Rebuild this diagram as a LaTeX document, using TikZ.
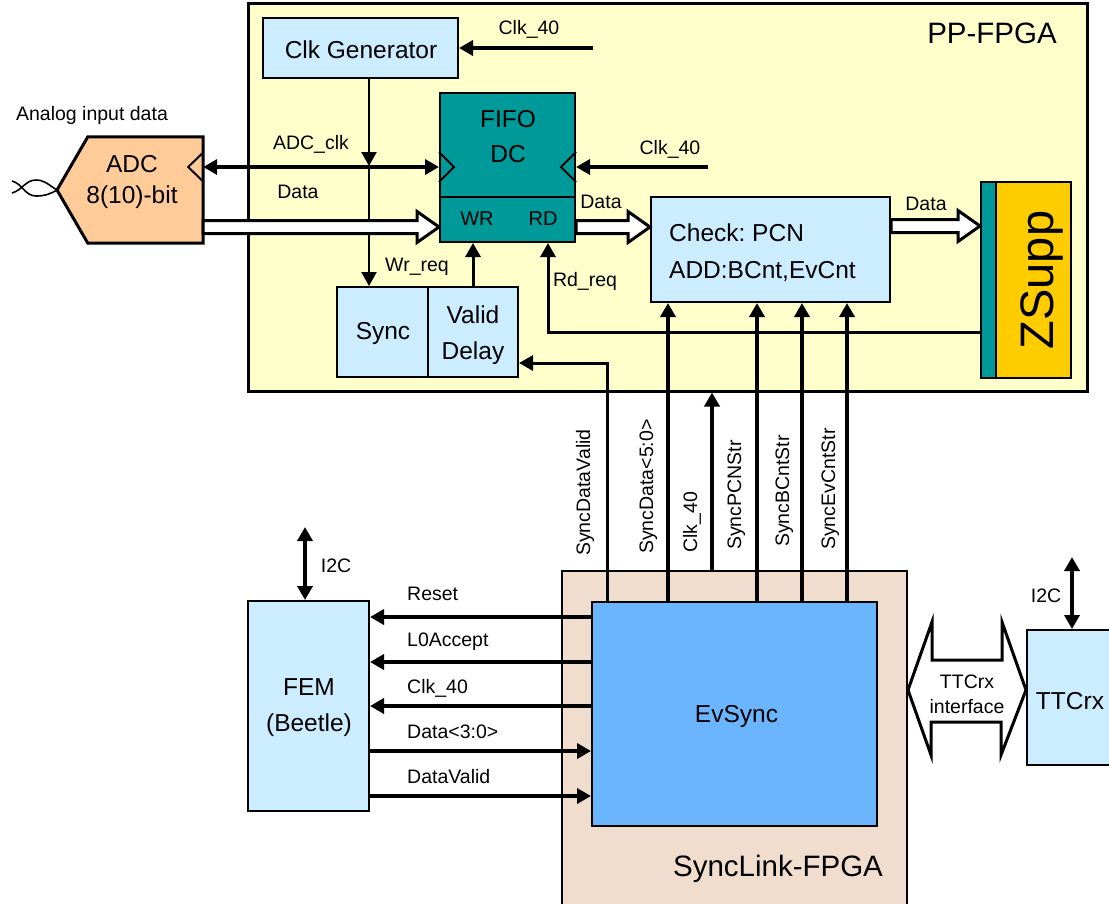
\documentclass[tikz,border=0pt]{standalone}
\usepackage{fontspec}
\setmainfont{Liberation Sans}
\usetikzlibrary{arrows.meta,calc}
\frenchspacing
\definecolor{ppfill}{RGB}{255,255,204}
\definecolor{lblue}{RGB}{204,236,255}
\definecolor{tealc}{RGB}{0,153,153}
\definecolor{peach}{RGB}{255,204,153}
\definecolor{zyell}{RGB}{255,204,0}
\definecolor{slfill}{RGB}{240,221,206}
\definecolor{evblue}{RGB}{107,181,255}
\newcommand\szS{\fontsize{19.5}{23}\selectfont}
\newcommand\szL{\fontsize{24.5}{31}\selectfont}
\newcommand\szLw{\fontsize{24.5}{36}\selectfont}
\newcommand\szXL{\fontsize{29.5}{34}\selectfont}
\newcommand\szZ{\fontsize{47}{50}\selectfont}
\newcommand\hollowarr[2]{\draw[hollow] let \p1=(#1), \p2=(#2) in
  (\x1,\y1+6.5pt) -- (\x2-22pt,\y1+6.5pt) -- (\x2-22pt,\y1+15.5pt) -- (\x2,\y1)
  -- (\x2-22pt,\y1-15.5pt) -- (\x2-22pt,\y1-6.5pt) -- (\x1,\y1-6.5pt) -- cycle;}
\begin{document}
\begin{tikzpicture}[x=1pt,y=-1pt,
  blk/.style={draw, line width=2pt, inner sep=0pt},
  lbl/.style={font=\szS, inner sep=0pt, text height=14pt, text depth=4pt},
  bigtxt/.style={font=\szL, inner sep=0pt, align=center},
  arrh/.style={-{Triangle[length=14pt,width=15pt]}},
  dtip/.style={{Triangle[length=14pt,width=15pt]}-{Triangle[length=14pt,width=15pt]}},
  wA/.style={line width=4pt},
  wB/.style={line width=3pt},
  hollow/.style={draw, line width=3pt, fill=white, line join=miter},
]
\clip (0,0) rectangle (1109,903);

% containers
\node[blk, line width=3pt, fill=ppfill, minimum width=839pt, minimum height=388pt] (pp) at (667.5,197) {};
\node[font=\szXL, inner sep=0pt] (pplbl) at (992,33) {PP-FPGA};
\node[blk, fill=slfill, minimum width=345pt, minimum height=336pt] (synclink) at (734.5,739) {};
\node[font=\szXL, inner sep=0pt] (sllbl) at (778,869) {SyncLink-FPGA};

% PP-FPGA blocks
\node[blk, fill=lblue, minimum width=195pt, minimum height=60pt] (clkgen) at (360.5,48) {};
\node[bigtxt] (clkgent) at (361,50) {Clk Generator};

\node[inner sep=0pt, minimum width=115pt, minimum height=106pt] (adc) at (145.5,190) {};
\coordinate (adctip) at (57,190);
\draw[line width=3pt, fill=peach] (adc.north west) -- (adc.north east) -- (adc.south east) -- (adc.south west) -- (adctip) -- cycle;
\node[bigtxt] (adct) at (132,182) {ADC\\8(10)-bit};
\node[lbl] (analog) at (92,115) {Analog input data};
\draw[line width=1.6pt] (12,181) to[out=-15,in=180] (36,196) to[out=0,in=-150] (adctip);
\draw[line width=1.6pt] (12,193) to[out=15,in=180] (36,180) to[out=0,in=150] (adctip);

\node[blk, fill=tealc, minimum width=135pt, minimum height=149pt] (fifo) at (507.5,167.5) {};
\coordinate (fdiv) at (500,197);
\draw[line width=2pt] (fifo.west |- fdiv) -- (fifo.east |- fdiv);
\node[bigtxt] (fifot) at (508,119) {FIFO};
\node[bigtxt] (dct) at (508,154) {DC};
\node[font=\fontsize{20}{24}\selectfont, inner sep=0pt] (wrt) at (477,219) {WR};
\node[font=\fontsize{20}{24}\selectfont, inner sep=0pt] (rdt) at (543,219) {RD};

\node[blk, fill=lblue, minimum width=239pt, minimum height=105pt] (check) at (770.5,249.5) {};
\node[bigtxt, anchor=west] (chk1) at (669,233) {Check: PCN};
\node[bigtxt, anchor=west] (chk2) at (669,272) {ADD:BCnt,EvCnt};

\node[blk, fill=tealc, minimum width=15pt, minimum height=196pt] (zbar) at (988.5,280) {};
\node[blk, fill=zyell, minimum width=75pt, minimum height=196pt] (zsupp) at (1033.5,280) {};
\node[font=\szZ, inner sep=0pt, rotate=90, anchor=base] (zsuppt) at (1053,280) {ZSupp};

\node[blk, fill=lblue, minimum width=91pt, minimum height=90pt] (sync) at (382.5,332) {};
\node[blk, fill=lblue, minimum width=90pt, minimum height=90pt] (valid) at (473,332) {};
\node[bigtxt] (synct) at (383,333) {Sync};
\node[bigtxt, font=\szLw] (validt) at (473,335) {Valid\\Delay};

% SyncLink blocks
\node[blk, fill=evblue, minimum width=285pt, minimum height=224pt] (evsync) at (734.5,714) {};
\node[bigtxt] (evsynct) at (736.5,716) {EvSync};
\node[blk, fill=lblue, minimum width=121pt, minimum height=210pt] (fem) at (308.5,706) {};
\node[bigtxt, font=\szLw] (femt) at (309,708) {FEM\\(Beetle)};
\node[blk, fill=lblue, minimum width=88pt, minimum height=135pt] (ttcrx) at (1071,697.5) {};
\node[bigtxt] (ttcrxt) at (1070,701) {TTCrx};

% clock connections
\coordinate (ck1) at (593,48);
\draw[wA, arrh] (ck1) -- (clkgen.east |- ck1);
\node[lbl] (ck1l) at (529,29) {Clk\_40};
\coordinate (ck2) at (708,167);
\draw[wA, arrh] (ck2) -- (fifo.east |- ck2);
\node[lbl] (ck2l) at (670,149) {Clk\_40};

\coordinate (ack) at (300,167);
\coordinate (clkj) at (369,166);
\draw[line width=2.5pt, arrh] (clkgen.south -| clkj) -- (clkj);
\draw[line width=2.5pt, arrh] (clkj) -- (sync.north -| clkj);
\draw[wA, dtip] (adc.east |- ack) -- (fifo.west |- ack);
\node[lbl] (ackl) at (311,144) {ADC\_clk};

% clock notches
\draw[line width=2pt] ($(adc.east |- ack)+(0,-14.5)$) -- ++(-15,14.5) -- ++(15,14.5);
\draw[line width=2pt] ($(fifo.west |- ack)+(0,-15)$) -- ++(15,15) -- ++(-15,15);
\draw[line width=2pt] ($(fifo.east |- ack)+(0,-15)$) -- ++(-15,15) -- ++(15,15);

% requests
\draw[wB, arrh] (valid.north) -- (fifo.south -| valid.north);
\node[lbl] (wrl) at (417,266) {Wr\_req};
\coordinate (rdc) at (548,332);
\draw[wB, arrh] (zbar.west |- rdc) -- (rdc) -- (fifo.south -| rdc);
\node[lbl] (rdl) at (585,281) {Rd\_req};

% vertical sync signals
\coordinate (vA) at (607,363);
\coordinate (vB) at (668,450);
\coordinate (vC) at (712,450);
\coordinate (vD) at (757,450);
\coordinate (vE) at (802,450);
\coordinate (vF) at (847,450);
\draw[wB, arrh] (evsync.north -| vA) -- (vA) -- (valid.east |- vA);
\draw[wA, arrh] (evsync.north -| vB) -- (check.south -| vB);
\draw[wA, arrh] (synclink.north -| vC) -- (pp.south -| vC);
\draw[wA, arrh] (evsync.north -| vD) -- (check.south -| vD);
\draw[wA, arrh] (evsync.north -| vE) -- (check.south -| vE);
\draw[wA, arrh] (evsync.north -| vF) -- (check.south -| vF);
\node[lbl, rotate=90, anchor=west] (l1) at (585,556) {SyncDataValid};
\node[lbl, rotate=90, anchor=west] (l2) at (648,554) {SyncData<5:0>};
\node[lbl, rotate=90, anchor=west] (l3) at (692,553) {Clk\_40};
\node[lbl, rotate=90, anchor=west] (l4) at (736,550) {SyncPCNStr};
\node[lbl, rotate=90, anchor=west] (l5) at (784,547) {SyncBCntStr};
\node[lbl, rotate=90, anchor=west] (l6) at (830,550) {SyncEvCntStr};

% FEM signals
\coordinate (s1) at (480,617);
\coordinate (s2) at (480,662);
\coordinate (s3) at (480,706);
\coordinate (s4) at (480,751);
\coordinate (s5) at (480,796);
\draw[wA, arrh] (evsync.west |- s1) -- (fem.east |- s1);
\draw[wA, arrh] (evsync.west |- s2) -- (fem.east |- s2);
\draw[wA, arrh] (evsync.west |- s3) -- (fem.east |- s3);
\draw[wA, arrh] (fem.east |- s4) -- (evsync.west |- s4);
\draw[wA, arrh] (fem.east |- s5) -- (evsync.west |- s5);
\node[lbl, anchor=base west] (f1) at (407,600) {Reset};
\node[lbl, anchor=base west] (f2) at (407,646) {L0Accept};
\node[lbl, anchor=base west] (f3) at (407,693) {Clk\_40};
\node[lbl, anchor=base west] (f4) at (407,738) {Data<3:0>};
\node[lbl, anchor=base west] (f5) at (407,783) {DataValid};

% I2C
\coordinate (i2a) at (305,527);
\draw[wA, dtip] (i2a) -- (fem.north -| i2a);
\node[lbl] (i2al) at (336,567) {I2C};
\coordinate (i2b) at (1072,557);
\draw[wA, dtip] (i2b) -- (ttcrx.north -| i2b);
\node[lbl] (i2bl) at (1046,597) {I2C};

% TTCrx interface
\coordinate (ttif) at (967,690);
\draw[hollow] (synclink.east |- ttif) -- ++(24,-68) -- ++(0,38) -- ++(70,0) -- ++(0,-38)
  -- (ttcrx.west |- ttif) -- ++(-25,65) -- ++(0,-33) -- ++(-70,0) -- ++(0,33) -- cycle;
\node[lbl] (tt1) at (967,683) {TTCrx};
\node[lbl] (tt2) at (967,708) {interface};

% data buses
\coordinate (da) at (300,227);
\coordinate (dm) at (600,227);
\coordinate (dr) at (930,226);
\hollowarr{adc.east |- da}{fifo.west |- da}
\hollowarr{fifo.east |- dm}{check.west |- dm}
\hollowarr{check.east |- dr}{zbar.west |- dr}
\node[lbl] (dal) at (298,193) {Data};
\node[lbl] (dml) at (601,203) {Data};
\node[lbl] (drl) at (926,205) {Data};
\end{tikzpicture}
\end{document}
